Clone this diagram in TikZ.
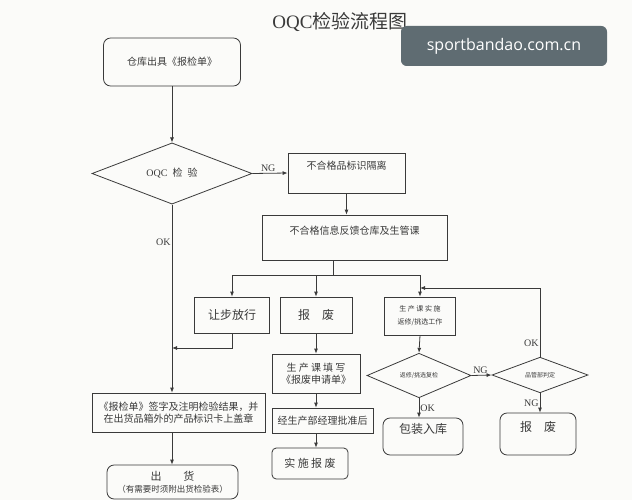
\documentclass[tikz,border=0pt]{standalone}
\usepackage{fontspec}
\setmainfont{Liberation Serif}
\newfontfamily\cjk{Noto Sans CJK SC}
\newfontfamily\wmfont{Open Sans}
\usepackage{xcolor}
\usepackage{tikz}
\usetikzlibrary{arrows.meta,positioning,calc,shapes.geometric}
\definecolor{Ink}{HTML}{3A3A3A}
\definecolor{Paper}{HTML}{FBFBF9}
\definecolor{Slate}{HTML}{5F6C72}

\begin{document}
\begin{tikzpicture}[x=1pt,y=-1pt,
  every node/.style={font=\cjk\fontsize{10}{12}\selectfont,align=center,inner sep=1pt,text=Ink},
  box/.style={draw=Ink,line width=0.8pt},
  rbox/.style={box,rounded corners=2.5mm},
  dec/.style={box,diamond,inner sep=0pt},
  hi/.style={text height=8pt,text depth=14pt},
  big/.style={font=\cjk\fontsize{12}{14}\selectfont},
  tiny/.style={font=\cjk\fontsize{6}{7}\selectfont},
  lbl/.style={font=\fontsize{10}{12}\selectfont,inner sep=1pt},
  arr/.style={-{Latex[length=5pt,width=4pt]},Ink,line width=0.8pt},
  lin/.style={Ink,line width=0.8pt}
]
\fill[Paper] (0,0) rectangle (632,500);
\useasboundingbox (0,0) rectangle (632,500);
% title and watermark
\node[font=\fontsize{19}{22}\selectfont] (tt) at (340,22) {OQC{\cjk 检验流程图}};
\node[fill=Slate,rounded corners=2mm,minimum width=206,minimum height=40,
  font=\wmfont\fontsize{16}{18}\selectfont,text=white] (wm) at (504,46) {sportbandao.com.cn};
% main column
\node[rbox,minimum width=137,minimum height=48] (ck) at (172,62) {仓库出具《报检单》};
\node[dec,minimum width=160,minimum height=53] (oqc) at (172,173.5) {{\rmfamily OQC}\enspace 检\enspace 验};
\node[box,minimum width=173,minimum height=39] (qz) at (178.5,412.5)
  {《报检单》签字及注明检验结果，并\\在出货品箱外的产品标识卡上盖章};
\node[rbox,minimum width=131,minimum height=34] (ch) at (172.5,482)
  {{\cjk\fontsize{11}{13}\selectfont 出\qquad 货}\\{\fontsize{8.5}{10}\selectfont （有需要时须附出货检验表）}};
% NG branch
\node[box,hi,minimum width=117,minimum height=40] (gl) at (346.5,173) {不合格品标识隔离};
\node[box,hi,minimum width=185,minimum height=45] (fk) at (354.5,237.5) {不合格信息反馈仓库及生管课};
\coordinate (jn) at (333,275);
\coordinate (fb) at (420,288);
\node[box,big,minimum width=75,minimum height=36] (rb) at (232,315) {让步放行};
\node[box,big,minimum width=72,minimum height=36] (bf) at (316,315) {报\quad 废};
\node[box,font=\cjk\fontsize{7}{8}\selectfont,minimum width=71,minimum height=38] (fx) at (420,316)
  {生\ 产\ 课\ 实\ 施\\[5pt]返修/挑选工作};
\node[box,minimum width=88,minimum height=39] (sq) at (316,373.5) {生\ 产\ 课\ 填\ 写\\《报废申请单》};
\node[box,minimum width=101,minimum height=25] (pz) at (322.5,420.5) {经生产部经理批准后};
\node[rbox,rounded corners=1.5mm,font=\cjk\fontsize{11}{13}\selectfont,minimum width=76,minimum height=31] (ss) at (310,463.5) {实\ 施\ 报\ 废};
\node[dec,tiny,minimum width=104,minimum height=37] (d2) at (419,375.5) {返修/挑选复检};
\node[dec,tiny,minimum width=96,minimum height=34] (d3) at (540,375) {品管部判定};
\node[rbox,hi,big,minimum width=80,minimum height=37] (bz) at (423,436.5) {包装入库};
\node[rbox,hi,big,minimum width=76,minimum height=42] (bf2) at (538,434) {报\quad 废};
% connectors
\draw[arr] (ck) -- (oqc);
\draw[arr] (oqc.east) -- node[lbl,above,pos=0.45] (ng1) {NG} (gl.west);
\draw[arr] (oqc.south) -- node[lbl,left,pos=0.2] (ok1) {OK} (oqc.south |- qz.north);
\draw[arr] (qz.south -| oqc.south) -- (oqc.south |- ch.north);
\draw[arr] (gl.south) -- (gl.south |- fk.north);
\draw[lin] (fk.south -| jn) -- (jn);
\draw[lin] (rb.north |- jn) -- (fx.north |- jn);
\draw[arr] (rb.north |- jn) -- (rb.north);
\draw[arr] (bf.north |- jn) -- (bf.north);
\draw[arr] (fx.north |- jn) -- (fx.north);
\draw[arr] (rb.south) |- (oqc.south |- 0,348);
\draw[arr] (bf.south) -- (sq.north);
\draw[arr] (sq.south) -- (sq.south |- pz.north);
\draw[arr] (sq.south |- pz.south) -- (sq.south |- ss.north);
\draw[arr] (fx.south) -- (d2.north);
\draw[arr] (d2.east) -- node[lbl,above,pos=0.45] (ng2) {NG} (d3.west);
\draw[arr] (d2.south) -- node[lbl,right] (ok2) {OK} (d2.south |- bz.north);
\draw[arr] (d3.south) -- node[lbl,left] (ng3) {NG} (d3.south |- bf2.north);
\draw[arr] (d3.north) |- node[lbl,left,pos=0.1] (ok3) {OK} (fb);
\end{tikzpicture}
\end{document}
